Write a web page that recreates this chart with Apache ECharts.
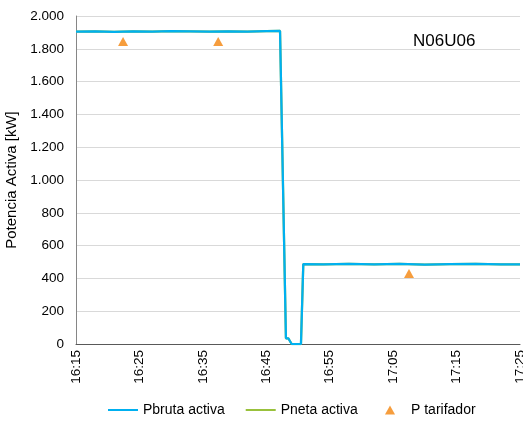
<!DOCTYPE html>
<html>
<head>
<meta charset="utf-8">
<script src="https://cdn.jsdelivr.net/npm/echarts@6/dist/echarts.min.js"></script>
<style>
  html, body { margin: 0; padding: 0; background: #fff; }
  #chart { width: 523px; height: 421px; }
</style>
</head>
<body>
<div id="chart"></div>
<script>
// Pbruta / Pneta activa (kW)
const pTimes = ['16:15:00', '16:18:00', '16:21:00', '16:24:00', '16:27:00', '16:30:00', '16:33:00',
    '16:36:00', '16:39:00', '16:42:00', '16:45:00', '16:47:10', '16:47:16', '16:48:06', '16:48:28',
    '16:49:00', '16:50:28', '16:50:50', '16:54:00', '16:58:00', '17:02:00', '17:06:00', '17:10:00',
    '17:14:00', '17:18:00', '17:22:00', '17:25:00'];
const pbruta = [1904, 1906, 1903, 1907, 1905, 1908, 1906, 1904, 1907, 1905, 1908, 1909, 1906, 35, 35,
    0, 0, 487, 485, 488, 486, 489, 484, 487, 488, 485, 486];
const pneta = [1904, 1906, 1903, 1907, 1905, 1908, 1906, 1904, 1907, 1905, 1908, 1909, 1906, 35, 35,
    0, 0, 487, 485, 488, 486, 489, 484, 487, 488, 485, 486];

// P tarifador
const tarTimes = ['16:22:25', '16:37:25', '17:07:30'];
const tarifador = [1845, 1845, 430];

const xTicks = ['16:15', '16:25', '16:35', '16:45', '16:55', '17:05', '17:15', '17:25'];

const START = 16 * 60 + 15;
function toMin(t) {
    const p = t.split(':').map(Number);
    return p[0] * 60 + p[1] + (p[2] || 0) / 60 - START;
}
function fmtMin(v) {
    const m = Math.round(v + START);
    return Math.floor(m / 60) + ':' + String(m % 60).padStart(2, '0');
}

const chart = echarts.init(document.getElementById('chart'));
const font = 'Liberation Sans, Arial, sans-serif';
const legendText = { color: '#000', fontSize: 14, fontFamily: font };
const orange = '#F4840C';

chart.setOption({
    animation: false,
    backgroundColor: '#fff',
    textStyle: { fontFamily: font },
    grid: { left: 76, right: 3, top: 16, bottom: 77, containLabel: false, outerBoundsMode: 'none' },
    xAxis: {
        type: 'value',
        min: 0, max: toMin(xTicks[xTicks.length - 1] + ':00'), interval: 10,
        axisLine: { lineStyle: { color: '#595959', width: 1 } },
        axisTick: { show: false },
        splitLine: { show: false },
        axisLabel: {
            rotate: 90, margin: 6, color: '#000', fontSize: 13.5, fontFamily: font,
            formatter: fmtMin, showMaxLabel: true
        }
    },
    yAxis: {
        type: 'value',
        min: 0, max: 2000, interval: 200,
        name: 'Potencia Activa [kW]',
        nameLocation: 'middle', nameGap: 53,
        nameTextStyle: { color: '#000', fontSize: 15, fontFamily: font },
        axisLine: { show: true, lineStyle: { color: '#868686', width: 1 } },
        axisTick: { show: false },
        splitLine: { lineStyle: { color: '#d9d9d9', width: 1 } },
        axisLabel: {
            color: '#000', fontSize: 13.5, fontFamily: font, margin: 12,
            formatter: v => v.toString().replace(/\B(?=(\d{3})+(?!\d))/g, '.')
        }
    },
    legend: [
        {
            left: 103, top: 398,
            itemWidth: 30, itemHeight: 14, itemGap: 21,
            textStyle: legendText,
            data: [
                { name: 'Pbruta activa', icon: 'path://M0,6H30V8H0Z' },
                { name: 'Pneta activa', icon: 'path://M0,6H30V8H0Z' }
            ]
        },
        {
            left: 380, top: 398,
            itemWidth: 10, itemHeight: 14,
            textStyle: Object.assign({ padding: [0, 0, 0, 11] }, legendText),
            data: [{ name: 'P tarifador', icon: 'path://M5,2L10,11H0Z' }]
        }
    ],
    graphic: [{
        type: 'text', left: 413, top: 33,
        style: { text: 'N06U06', fill: '#000', fontSize: 17, fontFamily: font }
    }],
    series: [
        {
            name: 'Pneta activa', type: 'line', symbol: 'none',
            data: pTimes.map((t, i) => [toMin(t), pneta[i]]),
            lineStyle: { color: '#99C13C', width: 2.25 },
            itemStyle: { color: '#99C13C' }
        },
        {
            name: 'Pbruta activa', type: 'line', symbol: 'none',
            data: pTimes.map((t, i) => [toMin(t), pbruta[i]]),
            lineStyle: { color: '#00B0F0', width: 2.25 },
            itemStyle: { color: '#00B0F0' }
        },
        {
            name: 'P tarifador', type: 'scatter', symbol: 'triangle', symbolSize: [10, 9],
            data: tarTimes.map((t, i) => [toMin(t), tarifador[i]]),
            itemStyle: { color: orange }
        }
    ]
});
</script>
</body>
</html>
